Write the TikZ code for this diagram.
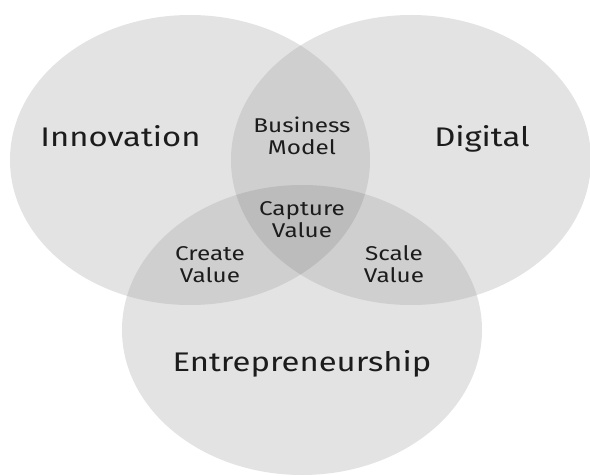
\documentclass[tikz,border=0pt]{standalone}
\usepackage{fontspec}
\setmainfont{Fira Sans}[FakeStretch=1.22]
\definecolor{cone}{HTML}{E3E3E3}
\definecolor{ctwo}{HTML}{CFCFCF}
\definecolor{cthree}{HTML}{BCBCBC}
\definecolor{txt}{HTML}{1C1C1C}
\begin{document}
\begin{tikzpicture}[x=1bp,y=-1bp,
  bigtext/.style={font=\fontsize{27}{31}\selectfont, text=txt, inner sep=0pt, anchor=base},
  smalltext/.style={font=\fontsize{20}{23}\selectfont, text=txt, align=center, inner sep=0pt, anchor=base},
  ell/.style={x radius=180bp, y radius=145bp}]
\useasboundingbox (0,0) rectangle (590,476);
\coordinate (cl) at (190,160);
\coordinate (cr) at (411,160);
\coordinate (cb) at (302,330);
% single regions
\fill[cone] (cl) ellipse [ell];
\fill[cone] (cr) ellipse [ell];
\fill[cone] (cb) ellipse [ell];
% double overlaps
\begin{scope}
  \clip (cl) ellipse [ell];
  \fill[ctwo] (cr) ellipse [ell];
  \fill[ctwo] (cb) ellipse [ell];
\end{scope}
\begin{scope}
  \clip (cr) ellipse [ell];
  \fill[ctwo] (cb) ellipse [ell];
\end{scope}
% triple overlap
\begin{scope}
  \clip (cl) ellipse [ell];
  \clip (cr) ellipse [ell];
  \fill[cthree] (cb) ellipse [ell];
\end{scope}
% labels
\node[bigtext] (innov) at (120.5,147) {Innovation};
\node[bigtext] (digi) at (482,147) {Digital};
\node[bigtext] (entre) at (302,371) {Entrepreneurship};
\node[smalltext] (bm) at (302,155) {Business\\Model};
\node[smalltext] (cap) at (302,238) {Capture\\Value};
\node[smalltext] (cre) at (210,283) {Create\\Value};
\node[smalltext] (sca) at (394,283) {Scale\\Value};
\end{tikzpicture}
\end{document}
